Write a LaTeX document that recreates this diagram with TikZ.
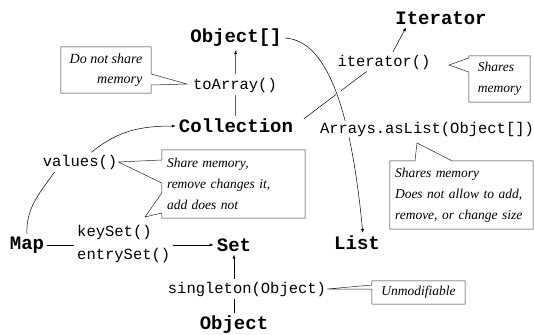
\documentclass[tikz,border=0pt]{standalone}
\usepackage{fontspec}
\usepackage{tikz}
\usetikzlibrary{arrows.meta}
\newfontfamily\codefam{Liberation Mono}
\newfontfamily\notefam{Liberation Serif}
\newcommand{\clsfont}{\codefam\bfseries\fontsize{19}{20}\selectfont}
\newcommand{\mthfont}{\codefam\fontsize{15.5}{23}\selectfont}
\newcommand{\notefont}{\notefam\itshape\fontsize{13.5}{21}\selectfont}
\tikzset{
  clsnode/.style={font=\clsfont,inner sep=1pt},
  mthnode/.style={font=\mthfont,inner sep=1pt,fill=white},
  notetext/.style={font=\notefont,inner sep=0pt},
  noteline/.style={draw=black!85,line width=0.5pt},
  conn/.style={black,line width=0.5pt,shorten <=2pt,shorten >=2pt},
  arr/.style={conn,-{Latex[length=4pt,width=3pt]}},
}

\begin{document}
\begin{tikzpicture}[x=10pt,y=10pt]
  \useasboundingbox (0,0) rectangle (53.4,-33.4);
  \node[clsnode] (objarr) at (23.6,-3.8) {Object[]};
  \node[clsnode] (iter) at (44.1,-1.8) {Iterator};
  \node[clsnode] (coll) at (23.6,-12.6) {Collection};
  \node[clsnode] (map) at (2.7,-24.5) {Map};
  \node[clsnode] (set) at (23.4,-24.5) {Set};
  \node[clsnode] (list) at (35.7,-24.3) {List};
  \node[clsnode] (obj) at (23.4,-32.5) {Object};
  \node[mthnode] (toarr) at (23.5,-8.5) {toArray()};
  \node[mthnode] (itm) at (38.4,-6.2) {iterator()};
  \node[mthnode] (values) at (8.0,-16.2) {values()};
  \node[mthnode,anchor=west,align=left] (keys) at (7.6,-24.35) {keySet()\\entrySet()};
  \node[mthnode] (single) at (24.7,-28.9) {singleton(Object)};
  \coordinate (tip1) at (18.7,-8.4);
  \coordinate (tip2) at (44.9,-6.5);
  \coordinate (tip3) at (14.5,-21.7);
  \coordinate (tip4) at (41.7,-14.3);

  \draw[arr] (toarr) -- (objarr);
  \draw[conn] (coll) -- (toarr);
  \draw[arr] ([xshift=10pt]values.north) to[out=40,in=180] (coll.west);
  \draw[conn] (map.north) to[out=92,in=-125] ([xshift=14pt]values.south west);
  \draw[conn] (map.east) -- (map.east -| keys.west);
  \draw[arr] (keys.east |- set) -- (set);
  \draw[arr] (set |- single.north) -- (set);
  \draw[conn] (obj) -- (obj |- single.south);
  \draw[conn] ([xshift=8pt,yshift=6pt]coll.east) -- ([xshift=-16pt]itm.south);
  \draw[arr] ([xshift=8pt]itm.north) -- ([xshift=-34pt]iter.south);
  \draw[arr,preaction={draw=white,line width=6pt,shorten <=12pt,shorten >=30pt}]
    (objarr.east) .. controls (33.0,-4.0) and (35.2,-12.0) .. ([xshift=6pt]list.north);
  \node[mthnode] (aslist) at (42.7,-12.9) {Arrays.asList(Object[])};

  \node[notetext,align=right,minimum width=90pt,minimum height=46pt,font=\notefont\fontsize{14}{20}\selectfont] (note1) at (10.6,-7.0) {Do not share\\memory};
  \node[notetext,align=left,minimum width=61pt,minimum height=46pt] (note2) at (49.95,-7.9) {Shares\\memory};
  \node[notetext,text width=133pt,inner xsep=5pt,align=left,minimum height=68pt] (note3) at (23.35,-18.4) {Share memory,\\remove changes it,\\add does not};
  \node[notetext,text width=133pt,inner xsep=5pt,align=left,minimum height=68pt] (note4) at (46.15,-19.5) {Shares memory\\Does not allow to add,\\remove, or change size};
  \node[notetext,align=center,minimum width=93pt,minimum height=23pt] (note5) at (41.85,-29.25) {Unmodifiable};
  \draw[noteline] (note1.north west) -- (note1.north east) -- ([yshift=-4pt]note1.east) -- (tip1)
    -- ([yshift=-15pt]note1.east) -- (note1.south east) -- (note1.south west) -- cycle;
  \draw[noteline] (note2.north west) -- (note2.north east) -- (note2.south east) -- (note2.south west)
    -- ([yshift=7pt]note2.west) -- (tip2) -- ([yshift=21pt]note2.west) -- cycle;
  \draw[noteline] (note3.north west) -- (note3.north east) -- (note3.south east) -- (note3.south west)
    -- ([yshift=-29pt]note3.west) -- (tip3) -- ([yshift=-9pt]note3.west)
    -- ([yshift=1pt]note3.west) -- (values.east) -- ([yshift=24pt]note3.west) -- cycle;
  \draw[noteline] (note4.north west) -- ([xshift=-46.5pt]note4.north) -- (tip4) -- ([xshift=-9.5pt]note4.north)
    -- (note4.north east) -- (note4.south east) -- (note4.south west) -- cycle;
  \draw[noteline] (note5.north west) -- (note5.north east) -- (note5.south east) -- (note5.south west)
    -- ([yshift=3.5pt]note5.west) -- (single.east) -- ([yshift=7.5pt]note5.west) -- cycle;
\end{tikzpicture}
\end{document}
